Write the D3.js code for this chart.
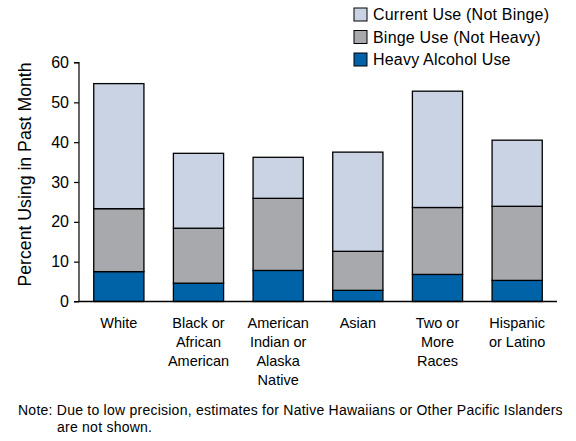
<!DOCTYPE html>
<html><head><meta charset="utf-8">
<script src="https://cdn.jsdelivr.net/npm/d3@7"></script>
<style>body{margin:0;background:#fff}svg{display:block}text{font-family:"Liberation Sans",Arial,sans-serif;fill:#000}</style>
</head><body>
<svg id="c" width="576" height="441"></svg>
<script>
const categories = [["White"],["Black or","African","American"],["American","Indian or","Alaska","Native"],["Asian"],["Two or","More","Races"],["Hispanic","or Latino"]];
const heavy = [7.5, 4.6, 7.8, 2.8, 6.8, 5.3];
const binge = [15.8, 13.8, 18.1, 9.8, 16.8, 18.6];
const current = [31.4, 18.8, 10.3, 24.9, 29.2, 16.6];
const seriesNames = ["Heavy Alcohol Use","Binge Use (Not Heavy)","Current Use (Not Binge)"];
const colors = ["#0063A8","#A8A9AD","#C9D3E4"];
const yTicks = [0,10,20,30,40,50,60];
const note1 = "Note: Due to low precision, estimates for Native Hawaiians or Other Pacific Islanders";
const note2 = "are not shown.";

const svg = d3.select("#c");
const L = 79, R = 557, T = 62.5, B = 301.5;
const keys = categories.map((d,i)=>i);
const x = d3.scaleBand().domain(keys).range([L,R]).paddingInner(0.37).paddingOuter(0.185);
const y = d3.scaleLinear().domain([0,60]).range([B,T]);

const rows = keys.map(i=>({i, s0:heavy[i], s1:binge[i], s2:current[i]}));
const stacked = d3.stack().keys(["s0","s1","s2"])(rows);

const g = svg.append("g");
stacked.forEach((layer,li)=>{
  g.selectAll(null).data(layer).enter().append("rect")
    .attr("x", d=>x(d.data.i))
    .attr("width", x.bandwidth())
    .attr("y", d=>y(d[1]))
    .attr("height", d=>y(d[0])-y(d[1]))
    .attr("fill", colors[li])
    .attr("stroke","#000").attr("stroke-width",1.3);
});

// y axis
const ya = svg.append("g").attr("transform",`translate(${L},0)`)
  .call(d3.axisLeft(y).tickValues(yTicks).tickSize(5).tickPadding(5).tickFormat(d3.format("d")));
ya.select(".domain").attr("stroke","#000").attr("stroke-width",1.2).attr("d",`M-5,${T}H0V${B}H-5`);
ya.selectAll(".tick line").attr("stroke","#000").attr("stroke-width",1.2);
ya.selectAll("text").attr("font-size",16).attr("font-family","Liberation Sans, Arial, sans-serif");

// x axis line
svg.append("line").attr("x1",L).attr("x2",R).attr("y1",B).attr("y2",B).attr("stroke","#000").attr("stroke-width",1.3);

// x labels
categories.forEach((lines,i)=>{
  const t = svg.append("text").attr("text-anchor","middle").attr("font-size",14.5);
  lines.forEach((ln,j)=>{
    t.append("tspan").attr("x", x(i)+x.bandwidth()/2).attr("y", 328 + j*19).text(ln);
  });
});

// y title
svg.append("text").attr("transform","translate(31,174.5) rotate(-90)")
  .attr("text-anchor","middle").attr("font-size",17.7).text("Percent Using in Past Month");

// legend
const legendOrder = [2,1,0];
legendOrder.forEach((si,k)=>{
  const yy = 8 + k*22.5;
  svg.append("rect").attr("x",354).attr("y",yy).attr("width",13).attr("height",13)
    .attr("fill",colors[si]).attr("stroke","#000").attr("stroke-width",1);
  svg.append("text").attr("x",373).attr("y",yy+12).attr("font-size",16).attr("letter-spacing",0.2).text(seriesNames[si]);
});

// note
svg.append("text").attr("x",18).attr("y",415).attr("font-size",14).attr("letter-spacing",0.24).text(note1);
svg.append("text").attr("x",57).attr("y",432).attr("font-size",14).attr("letter-spacing",0.24).text(note2);
</script>
</body></html>
